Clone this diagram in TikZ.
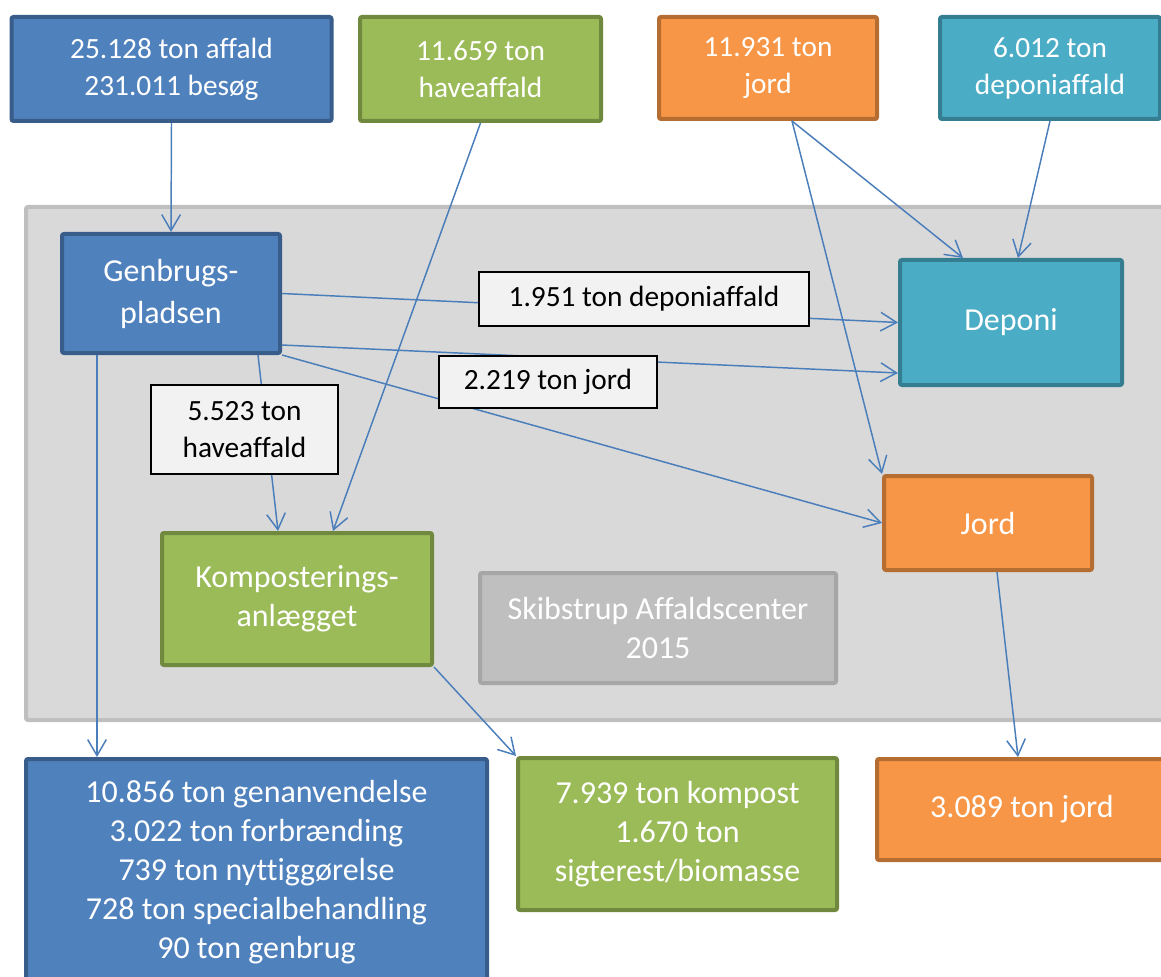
\documentclass[tikz,border=0pt]{standalone}
\usepackage{fontspec}
\setmainfont{Carlito}[Ligatures=CommonOff]
\usetikzlibrary{arrows.meta}
\definecolor{bluefill}{HTML}{4F81BD}
\definecolor{blueline}{HTML}{385D8A}
\definecolor{greenfill}{HTML}{9BBB59}
\definecolor{greenline}{HTML}{71893F}
\definecolor{orangefill}{HTML}{F79646}
\definecolor{orangeline}{HTML}{B66D31}
\definecolor{tealfill}{HTML}{4BACC6}
\definecolor{tealline}{HTML}{357D91}
\definecolor{flowblue}{HTML}{4A7EBB}
\definecolor{bgfill}{HTML}{D9D9D9}
\definecolor{bgline}{HTML}{BFBFBF}
\definecolor{notefill}{HTML}{BFBFBF}
\definecolor{noteline}{HTML}{A6A6A6}
\definecolor{labelfill}{HTML}{F2F2F2}
\begin{document}
\begin{tikzpicture}[x=0.75pt,y=-0.75pt]
    \tikzstyle{big}=[font=\fontsize{24pt}{29.25pt}\selectfont]
    \tikzstyle{small}=[font=\fontsize{22pt}{27.75pt}\selectfont]
    \tikzstyle{box}=[rectangle,rounded corners=1.5pt,line width=3pt,text=white,align=center,inner sep=0pt,big]
    \tikzstyle{bluebox}=[box,draw=blueline,fill=bluefill]
    \tikzstyle{greenbox}=[box,draw=greenline,fill=greenfill]
    \tikzstyle{orangebox}=[box,draw=orangeline,fill=orangefill]
    \tikzstyle{tealbox}=[box,draw=tealline,fill=tealfill]
    \tikzstyle{notebox}=[box,draw=noteline,fill=notefill]
    \tikzstyle{flowlabel}=[rectangle,draw=black,line width=0.8pt,fill=labelfill,align=center,inner sep=0pt,small]
    \tikzstyle{flow}=[draw=flowblue,line width=1.1pt,-{Straight Barb[length=12pt,width=14pt]}]
    \useasboundingbox (0,0) rectangle (1161,977);
    \clip (0,0) rectangle (1161,977);
    % the centre
    \draw [rounded corners=1.5pt, line width=3pt, draw=bgline, fill=bgfill] (26,207) rectangle (1190,720);
    % input
    \node (affald)[bluebox,small,minimum width=240pt,minimum height=78pt] at (171.5,69) {25.128 ton affald\\231.011 besøg};
    \node (have)[greenbox,small,minimum width=180.75pt,minimum height=78pt] at (480.5,69) {11.659 ton\\haveaffald};
    \node (jordin)[orangebox,small,minimum width=163.5pt,minimum height=76.5pt] at (768,68) {11.931 ton\\jord};
    \node (depin)[tealbox,small,minimum width=165pt,minimum height=76.5pt] at (1050,68) {6.012 ton\\deponiaffald};
    % plants
    \node (gen)[bluebox,font=\fontsize{24pt}{31.5pt}\selectfont,minimum width=163.5pt,minimum height=89.25pt] at (171,293.5) {Genbrugs-\\pladsen};
    \node (dep)[tealbox,minimum width=166.5pt,minimum height=93.75pt] at (1011,322.5) {Deponi};
    \node (jord)[orangebox,minimum width=156pt,minimum height=70.5pt] at (988,523) {Jord};
    \node (kom)[greenbox,minimum width=202.5pt,minimum height=99pt] at (297,599) {Komposterings-\\anlægget};
    \node (center)[notebox,minimum width=267pt,minimum height=82.5pt] at (658,628) {Skibstrup Affaldscenter\\2015};
    % output
    \node (genud)[bluebox,minimum width=345.75pt,minimum height=169.5pt] at (256.5,872) {10.856 ton genanvendelse\\3.022 ton forbrænding\\739 ton nyttiggørelse\\728 ton specialbehandling\\90 ton genbrug};
    \node (komud)[greenbox,minimum width=239.25pt,minimum height=114pt] at (677.5,834) {7.939 ton kompost\\1.670 ton\\sigterest/biomasse};
    \node (jordud)[orangebox,minimum width=217.5pt,minimum height=75.75pt] at (1022,809.5) {3.089 ton jord};
    % flows
    \draw [flow] (affald.south) -- (gen.north);
    \draw [flow] (have.south) -- ([xshift=27pt]kom.north);
    \draw [flow] ([xshift=18pt]jordin.south) -- ([xshift=-36pt]dep.north);
    \draw [flow] ([xshift=18pt]jordin.south) -- (jord.north west);
    \draw [flow] (depin.south) -- ([xshift=5.25pt]dep.north);
    \draw [flow] (gen.east) -- (dep.west);
    \draw [flow] ([yshift=7.5pt]gen.south east) -- ([yshift=10.5pt]dep.south west);
    \draw [flow] (gen.south east) -- (jord.west);
    \draw [flow] ([xshift=-18pt]gen.south east) -- ([xshift=-14.25pt]kom.north);
    \draw [flow] ([xshift=27.75pt]gen.south west) -- ([xshift=54.75pt]genud.north west);
    \draw [flow] (kom.south east) -- (komud.north west);
    \draw [flow] ([xshift=6.75pt]jord.south) -- ([xshift=-3pt]jordud.north);
    % amounts
    \node (deplabel)[flowlabel,minimum width=247.5pt,minimum height=40.5pt] at (644,299) {1.951 ton deponiaffald};
    \node (jordlabel)[flowlabel,minimum width=163.5pt,minimum height=39pt] at (548,382) {2.219 ton jord};
    \node (havelabel)[flowlabel,minimum width=140.25pt,minimum height=66.75pt] at (244.5,429.5) {5.523 ton\\haveaffald};
\end{tikzpicture}
\end{document}
